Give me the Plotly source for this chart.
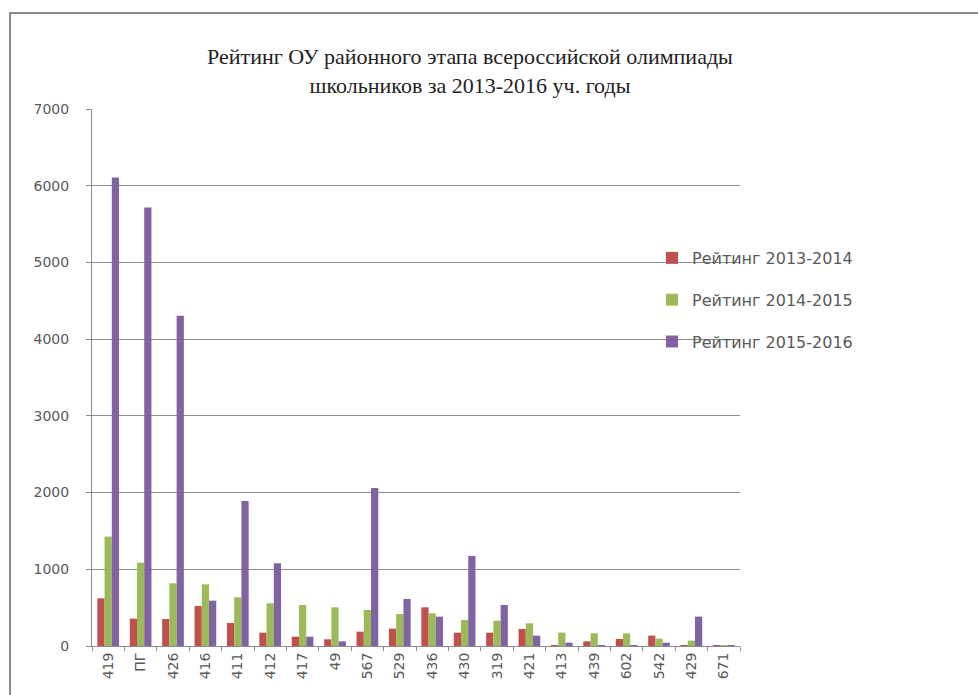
import plotly.graph_objects as go

categories = ["419", "ПГ", "426", "416", "411", "412", "417", "49", "567", "529",
              "436", "430", "319", "421", "413", "439", "602", "542", "429", "671"]
rating_2013_2014 = [622, 357, 352, 522, 300, 174, 122, 87, 187, 226,
                    504, 174, 174, 222, 10, 61, 91, 135, 4, 3]
rating_2014_2015 = [1426, 1087, 817, 804, 635, 557, 535, 504, 470, 417,
                    426, 339, 330, 296, 174, 165, 165, 96, 70, 5]
rating_2015_2016 = [6106, 5715, 4306, 591, 1890, 1078, 122, 61, 2060, 613,
                    383, 1174, 535, 135, 43, 13, 9, 43, 383, 5]
series_names = ["Рейтинг 2013-2014", "Рейтинг 2014-2015", "Рейтинг 2015-2016"]
y_ticks = [0, 1000, 2000, 3000, 4000, 5000, 6000, 7000]

colors = ["#C0504D", "#9BBB59", "#8064A2"]
fig = go.Figure()
for i, (name, vals) in enumerate(zip(series_names,
                                     [rating_2013_2014, rating_2014_2015, rating_2015_2016])):
    fig.add_trace(go.Bar(x=categories, y=vals, name=name, marker_color=colors[i],
                         marker_line_width=0, legendgroup=str(i)))

W, H = 978, 695
L, R, T, B = 92, 238, 109, 49
PW, PH = W - L - R, H - T - B
fig.update_layout(
    width=W, height=H,
    margin=dict(l=L, r=R, t=T, b=B),
    paper_bgcolor="white", plot_bgcolor="white",
    barmode="group", bargap=0.33, bargroupgap=0,
    font=dict(family="DejaVu Sans, Arial, sans-serif", color="#595959", size=14),
    title=dict(text="Рейтинг ОУ районного этапа всероссийской олимпиады<br>школьников за 2013-2016 уч. годы",
               x=470 / W, xanchor="center", xref="container",
               y=1 - 64 / H, yanchor="top", yref="container",
               font=dict(family="Liberation Serif, Times New Roman, serif", size=22, color="#222222")),
    legend=dict(x=(652 - L) / PW, xanchor="left",
                y=(H - B - 241) / PH, yanchor="top",
                tracegroupgap=18, font=dict(size=16, color="#595959"),
                bgcolor="rgba(0,0,0,0)", itemwidth=30),
    showlegend=True,
)
fig.update_yaxes(range=[0, 7000], tickvals=y_ticks, showgrid=True, gridcolor="#8c8c8c",
                 gridwidth=1, showline=True, linecolor="#8c8c8c", linewidth=1,
                 ticks="outside", ticklen=5, tickcolor="#8c8c8c", zeroline=False,
                 ticklabelstandoff=14,
                 tickfont=dict(size=14, color="#595959"))
fig.update_xaxes(showline=True, linecolor="#8c8c8c", linewidth=1, tickangle=-90,
                 ticks="outside", ticklen=4, tickcolor="#8c8c8c", tickson="boundaries",
                 tickfont=dict(size=14, color="#595959"))

# outer chart frame (top and left edges visible)
fig.add_shape(type="rect", xref="paper", yref="paper",
              x0=(10 - L) / PW, x1=3,
              y0=-1, y1=(H - B - 13) / PH,
              line=dict(color="#8a8a8a", width=2), layer="below")

fig.write_html("out.html", config={"displayModeBar": False},
               post_script="document.body.style.margin='0';")
